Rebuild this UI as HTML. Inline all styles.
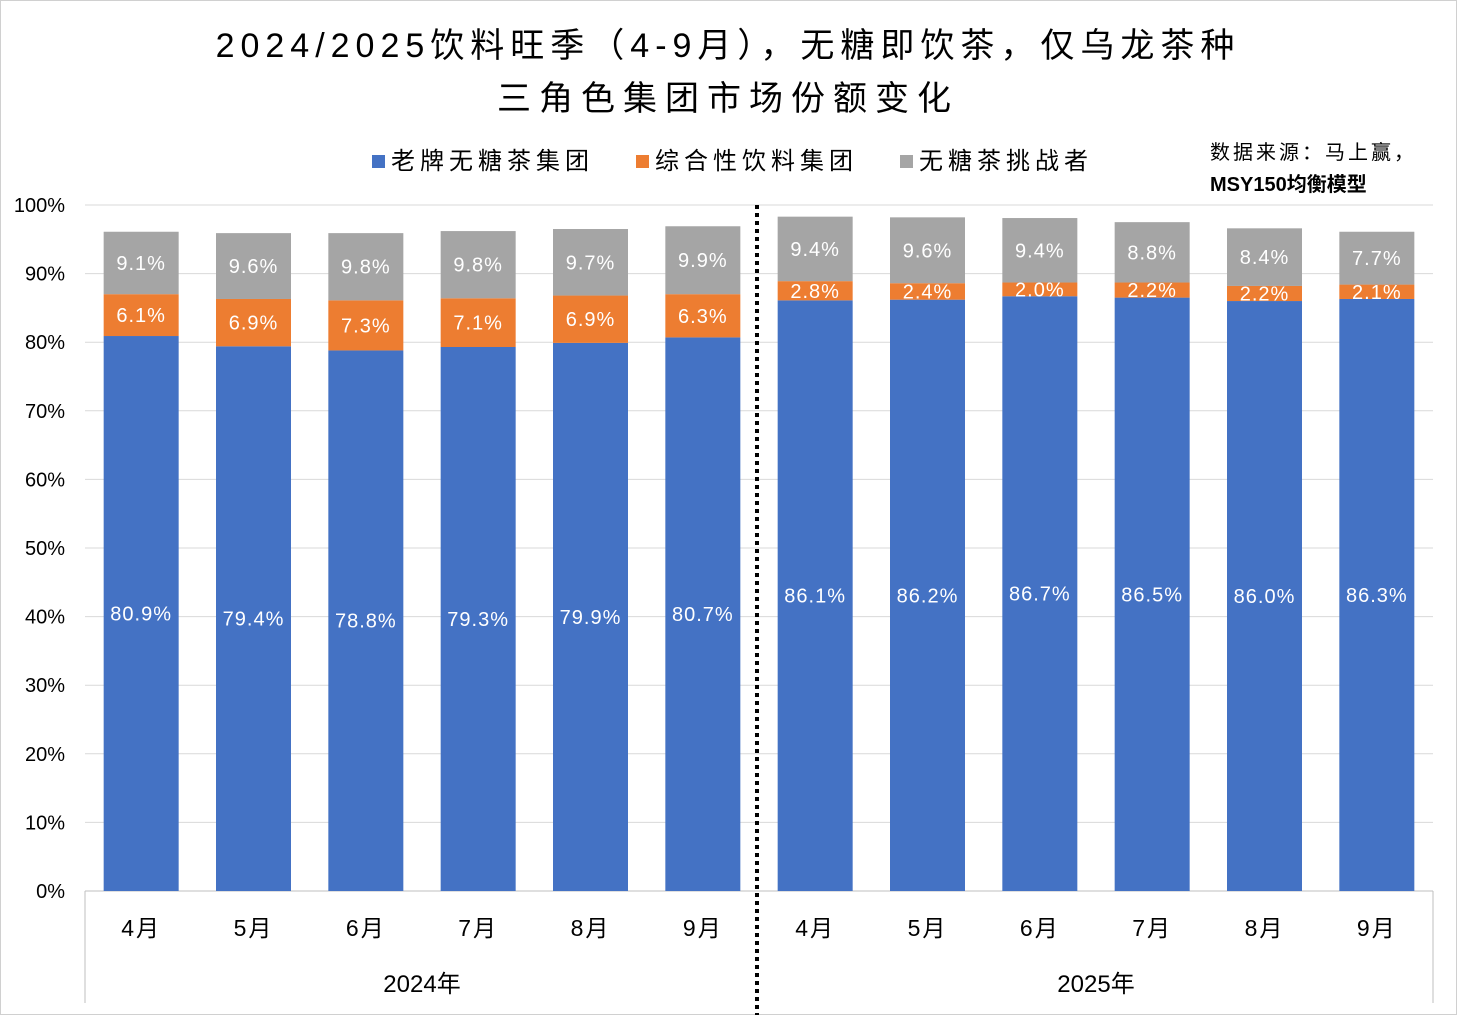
<!DOCTYPE html>
<html><head><meta charset="utf-8">
<style>
body{margin:0;background:#fff;}
#wrap{position:relative;width:1457px;height:1015px;overflow:hidden;font-family:"Liberation Sans","Noto Sans CJK SC",sans-serif;}
svg text{font-family:"Liberation Sans","Noto Sans CJK SC",sans-serif;}
</style></head>
<body>
<div id="wrap">
<svg id="chart" width="1457" height="1015">
<rect x="0.5" y="0.5" width="1456" height="1014" fill="#fff" stroke="#d0d0d0"/>
<text x="728" y="57" text-anchor="middle" font-size="34" fill="#000" letter-spacing="6">2024/2025饮料旺季（4-9月），无糖即饮茶，仅乌龙茶种</text>
<text x="728" y="110" text-anchor="middle" font-size="34" fill="#000" letter-spacing="8">三角色集团市场份额变化</text>
<g id="legend">
<g><rect x="372" y="155" width="13" height="13" fill="#4472c4"/><text x="391" y="169" font-size="24" letter-spacing="5">老牌无糖茶集团</text></g>
<g><rect x="636" y="155" width="13" height="13" fill="#ed7d31"/><text x="655" y="169" font-size="24" letter-spacing="5">综合性饮料集团</text></g>
<g><rect x="900" y="155" width="13" height="13" fill="#a5a5a5"/><text x="919" y="169" font-size="24" letter-spacing="5">无糖茶挑战者</text></g>
</g>
<text x="1210" y="159" font-size="20" letter-spacing="3">数据来源：马上赢，</text>
<text x="1210" y="191" font-size="20" font-weight="bold">MSY150均衡模型</text>
<g id="grid"></g><g id="bars"></g><g id="axes"></g>
</svg>
</div>
<script>
const months=["4月","5月","6月","7月","8月","9月","4月","5月","6月","7月","8月","9月"];
const years=["2024年","2025年"];
const oldBrand=[80.9,79.4,78.8,79.3,79.9,80.7,86.1,86.2,86.7,86.5,86.0,86.3];
const general=[6.1,6.9,7.3,7.1,6.9,6.3,2.8,2.4,2.0,2.2,2.2,2.1];
const challenger=[9.1,9.6,9.8,9.8,9.7,9.9,9.4,9.6,9.4,8.8,8.4,7.7];
const yTicks=[0,10,20,30,40,50,60,70,80,90,100];
const NS="http://www.w3.org/2000/svg";
const L=85,R=1433,Y0=891,Y100=205;
const band=(R-L)/months.length, bw=75;
const y=v=>Y0-(v/100)*(Y0-Y100);
const xc=i=>L+band*(i+0.5);
function mk(tag,attrs,parent,txt){const e=document.createElementNS(NS,tag);for(const k in attrs)e.setAttribute(k,attrs[k]);if(txt!==undefined)e.textContent=txt;parent.appendChild(e);return e;}
const grid=document.getElementById('grid'),bars=document.getElementById('bars'),axes=document.getElementById('axes');
yTicks.forEach(t=>{
 const ln=mk('line',{x1:L,x2:R,y1:y(t),y2:y(t),stroke:t===0?'#bfbfbf':'#d9d9d9','stroke-width':1},grid);
 
 
 const tx=mk('text',{x:65,y:y(t)+7,'text-anchor':'end','font-size':20},grid,t+'%');
 
 
});
const series=[[oldBrand,'#4472c4','old-brand'],[general,'#ed7d31','general'],[challenger,'#a5a5a5','challenger']];
months.forEach((m,i)=>{
 let base=0;
 series.forEach(([arr,col,nm])=>{
  const v=arr[i];
  const r=mk('rect',{x:xc(i)-bw/2,y:y(base+v),width:bw,height:y(base)-y(base+v),fill:col},bars);
  
  
  const t=mk('text',{x:xc(i),y:y(base+v/2)+7,'text-anchor':'middle','font-size':20,fill:'#fff','letter-spacing':1},bars,v.toFixed(1)+'%');
  
  
  base+=v;
 });
 const ml=mk('text',{x:xc(i),y:936,'text-anchor':'middle','font-size':23,'letter-spacing':2},axes,m);
 
 
});
[L,R].forEach((x,k)=>{const l=mk('line',{x1:x,x2:x,y1:Y0,y2:1003,stroke:'#bfbfbf'},axes);
 
 });
years.forEach((yr,k)=>{
 const t=mk('text',{x:L+band*(6*k+3),y:992,'text-anchor':'middle','font-size':24},axes,yr);
 
 
});
const sep=mk('line',{x1:757,x2:757,y1:205,y2:1015,stroke:'#000','stroke-width':4,'stroke-dasharray':'4,4'},axes);


</script>
</body></html>
